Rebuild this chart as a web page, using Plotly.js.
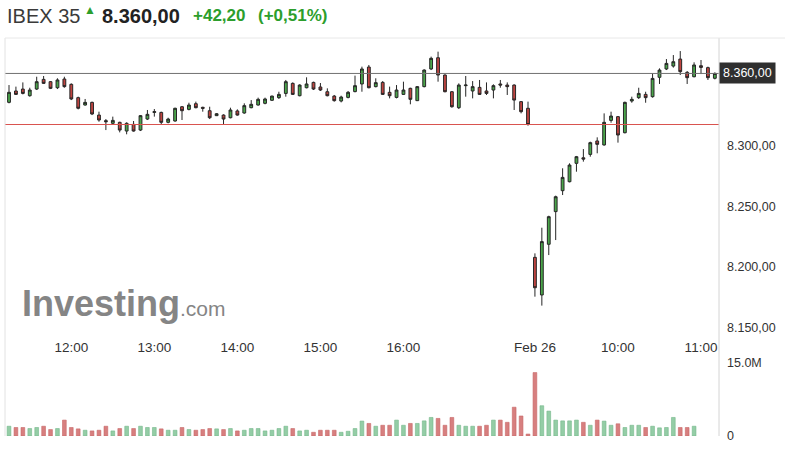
<!DOCTYPE html>
<html>
<head>
<meta charset="utf-8">
<script src="https://cdn.plot.ly/plotly-3.0.1.min.js"></script>
<style>html,body{margin:0;padding:0;background:#fff}#chart{width:785px;height:449px}</style>
</head>
<body>
<div id="chart"></div>
<script>
// 5-minute candles: Feb 25 11:15-17:30, Feb 26 09:00-11:10
const times = [
 "11:15","11:20","11:25","11:30","11:35","11:40","11:45","11:50","11:55",
 "12:00","12:05","12:10","12:15","12:20","12:25","12:30","12:35","12:40","12:45","12:50","12:55",
 "13:00","13:05","13:10","13:15","13:20","13:25","13:30","13:35","13:40","13:45","13:50","13:55",
 "14:00","14:05","14:10","14:15","14:20","14:25","14:30","14:35","14:40","14:45","14:50","14:55",
 "15:00","15:05","15:10","15:15","15:20","15:25","15:30","15:35","15:40","15:45","15:50","15:55",
 "16:00","16:05","16:10","16:15","16:20","16:25","16:30","16:35","16:40","16:45","16:50","16:55",
 "17:00","17:05","17:10","17:15","17:20","17:25","17:30",
 "09:00","09:05","09:10","09:15","09:20","09:25","09:30","09:35","09:40","09:45","09:50","09:55",
 "10:00","10:05","10:10","10:15","10:20","10:25","10:30","10:35","10:40","10:45","10:50","10:55",
 "11:00","11:05","11:10"
];
const openP = [
 8336.1,8345.5,8347.1,8341.6,8347.1,8355.1,8353.2,8348.2,8355.4,8351.0,
 8340.0,8333.9,8336.1,8325.6,8321.0,8318.8,8319.6,8312.4,8317.9,8313.2,
 8322.3,8327.8,8327.8,8319.6,8320.7,8332.5,8330.3,8335.0,8332.0,8329.2,
 8325.1,8325.6,8323.4,8329.0,8327.3,8331.7,8333.9,8335.3,8337.8,8340.0,
 8343.5,8351.8,8341.6,8348.2,8352.6,8348.8,8344.9,8341.3,8337.2,8340.2,
 8345.0,8351.3,8365.3,8349.1,8352.6,8344.4,8340.2,8342.7,8347.7,8337.5,
 8349.1,8363.7,8373.0,8358.7,8344.9,8331.7,8349.9,8345.5,8348.5,8345.5,
 8346.3,8351.3,8350.4,8350.4,8336.7,8331.2,
 8208.0,8176.9,8218.8,8245.8,8263.1,8270.5,8285.7,8290.3,8293.1,8304.2,
 8300.9,8321.2,8324.3,8311.0,8337.2,8340.0,8342.7,8340.8,8356.8,8363.7,
 8366.1,8371.9,8360.9,8357.3,8366.4,8364.8,8356.0
];
const highP = [
 8350.4,8349.1,8352.6,8348.2,8357.3,8357.9,8353.7,8356.0,8357.3,8351.8,
 8340.8,8338.9,8336.7,8328.4,8322.3,8324.3,8320.1,8319.6,8320.7,8325.6,
 8329.8,8330.6,8328.4,8323.4,8331.7,8333.1,8335.8,8336.7,8332.5,8332.5,
 8327.3,8326.2,8331.7,8330.3,8335.3,8338.0,8340.0,8340.0,8341.6,8344.9,
 8354.6,8352.6,8351.0,8356.8,8353.2,8352.1,8347.7,8342.2,8341.6,8345.5,
 8358.2,8365.6,8367.0,8356.0,8353.7,8349.1,8350.4,8353.2,8348.2,8349.6,
 8363.4,8373.9,8378.0,8359.3,8345.5,8351.8,8357.9,8353.7,8354.6,8352.6,
 8351.0,8354.6,8352.6,8351.0,8337.2,8336.7,
 8211.3,8232.5,8242.4,8259.0,8281.6,8285.7,8291.8,8297.5,8303.6,8307.2,
 8327.0,8328.4,8324.8,8336.7,8340.8,8348.2,8344.9,8360.1,8364.2,8371.9,
 8375.2,8378.5,8362.0,8369.2,8371.1,8365.6,8360.9
];
const lowP = [
 8335.3,8342.2,8342.7,8340.8,8346.3,8351.3,8347.1,8347.1,8348.2,8338.0,
 8330.3,8333.4,8325.6,8320.1,8313.2,8317.9,8311.3,8309.7,8311.9,8312.4,
 8321.5,8324.3,8317.9,8318.8,8320.1,8321.5,8329.5,8331.2,8328.4,8322.3,
 8324.8,8317.4,8322.9,8325.1,8326.7,8331.2,8333.4,8334.5,8337.2,8338.9,
 8340.8,8342.2,8341.1,8347.7,8346.3,8345.5,8341.1,8336.7,8336.1,8339.4,
 8344.4,8344.9,8347.7,8348.5,8342.2,8339.4,8339.4,8342.2,8334.5,8337.2,
 8348.5,8362.8,8353.2,8344.4,8331.7,8330.6,8340.8,8339.4,8342.2,8342.2,
 8339.4,8348.2,8342.2,8329.8,8327.0,8316.8,
 8175.5,8168.1,8209.9,8222.3,8259.5,8270.0,8278.8,8287.1,8291.2,8294.0,
 8300.3,8319.3,8302.8,8310.5,8335.8,8338.9,8335.8,8340.0,8351.3,8362.8,
 8364.8,8358.7,8351.3,8356.8,8359.5,8354.6,8355.1
];
const closeP = [
 8344.4,8342.7,8343.5,8346.3,8353.2,8351.8,8347.7,8354.6,8349.1,8338.9,
 8331.2,8336.1,8326.5,8321.5,8320.1,8321.2,8313.2,8318.8,8312.4,8325.1,
 8326.2,8328.4,8319.6,8322.3,8331.2,8329.2,8333.9,8331.7,8331.2,8323.4,
 8326.7,8322.3,8329.8,8325.6,8333.4,8334.5,8338.6,8338.9,8341.3,8342.7,
 8353.2,8342.7,8350.4,8351.3,8347.1,8346.3,8341.6,8337.5,8340.5,8344.4,
 8349.9,8363.7,8348.2,8352.4,8342.7,8341.6,8346.3,8346.3,8338.6,8349.1,
 8362.8,8372.5,8358.7,8344.9,8332.5,8350.4,8350.4,8349.1,8342.7,8343.5,
 8349.9,8350.4,8349.1,8338.0,8328.4,8317.8,
 8182.9,8221.0,8241.6,8258.1,8274.1,8284.3,8291.2,8289.2,8302.8,8301.4,
 8319.6,8324.8,8309.1,8336.1,8338.6,8343.5,8340.0,8355.9,8362.8,8368.3,
 8369.7,8361.5,8356.5,8367.0,8365.0,8356.5,8360.0
];
// volume in millions
const volumeM = [
 2.0,1.74,1.74,1.53,1.74,2.0,1.32,1.53,3.26,1.74,
 1.46,1.18,1.04,1.18,2.0,1.04,1.53,2.0,1.53,2.0,
 1.74,1.74,1.46,1.18,1.18,1.74,1.32,1.18,1.32,1.53,
 1.46,1.32,1.53,1.04,1.18,1.53,1.53,1.04,1.18,1.53,
 2.0,1.53,1.04,1.18,0.76,1.18,1.18,1.18,0.76,0.97,
 1.53,3.06,2.57,2.0,2.2,2.2,3.26,2.2,2.57,2.57,
 3.1,3.8,3.6,2.2,3.8,2.2,2.0,2.0,2.0,2.2,
 3.26,3.26,2.8,5.9,4.1,0.4,
 13.0,6.2,5.1,3.26,3.1,3.1,3.26,2.8,2.2,3.26,
 3.05,2.2,2.5,1.74,2.2,2.2,1.74,2.0,1.67,1.74,
 3.8,1.74,1.74,2.0,null,null,null
];
const xTickVals = ["12:00","13:00","14:00","15:00","16:00","09:00","10:00","11:00"];
const xTickText = ["12:00","13:00","14:00","15:00","16:00","Feb 26","10:00","11:00"];
const priceTicks = [8150, 8200, 8250, 8300];
const lastPrice = 8360.00;
const prevClose = 8317.80;
const change = "+42,20";
const changePct = "(+0,51%)";

const volFill = closeP.map((c, i) => c >= openP[i] ? "#94cda6" : "#d77f7f");
const volLine = closeP.map((c, i) => c >= openP[i] ? "#74b78a" : "#c86666");

const traces = [
 {
  type: "candlestick", x: times, open: openP, high: highP, low: lowP, close: closeP,
  xaxis: "x", yaxis: "y",
  increasing: {line: {color: "#262626", width: 1}, fillcolor: "#4aa54a"},
  decreasing: {line: {color: "#262626", width: 1}, fillcolor: "#bf4440"},
  whiskerwidth: 0, hoverinfo: "skip"
 },
 {
  type: "bar", x: times, y: volumeM, xaxis: "x2", yaxis: "y2",
  marker: {color: volFill, line: {color: volLine, width: 0.6}}, hoverinfo: "skip"
 }
];

const font = "Arial, 'Liberation Sans', sans-serif";
const layout = {
 width: 785, height: 449,
 margin: {l: 5, r: 66, t: 38, b: 13},
 paper_bgcolor: "#ffffff", plot_bgcolor: "#ffffff",
 showlegend: false, separators: ",.",
 font: {family: font, color: "#333"},
 boxgap: 0.42, bargap: 0.46,
 xaxis: {
  type: "category", range: [-0.58, 102.6], anchor: "y",
  tickvals: xTickVals, ticktext: xTickText, ticks: "",
  showgrid: false, zeroline: false, showline: false,
  tickfont: {size: 13.5, color: "#333"},
  rangeslider: {visible: false}
 },
 xaxis2: {
  type: "category", matches: "x", anchor: "y2",
  showticklabels: false, showgrid: false, zeroline: false, ticks: ""
 },
 yaxis: {
  domain: [0.2487, 1], range: [8142.15, 8389.3], side: "right", anchor: "x",
  tickvals: priceTicks, tickformat: ",.2f", ticks: "",
  showgrid: false, zeroline: false, ticklabelstandoff: 7,
  tickfont: {size: 12.5, color: "#333"}
 },
 yaxis2: {
  domain: [0, 0.2035], range: [0, 16.6], side: "right", anchor: "x2",
  tickvals: [0, 15], ticktext: ["0", "15.0M"], ticks: "",
  showgrid: false, zeroline: false, ticklabelstandoff: 7,
  tickfont: {size: 12.5, color: "#333"}
 },
 shapes: [
  {type: "line", xref: "paper", yref: "y", x0: 0, x1: 1, y0: lastPrice, y1: lastPrice, line: {color: "#707070", width: 1}},
  {type: "line", xref: "paper", yref: "y", x0: 0, x1: 1, y0: prevClose, y1: prevClose, line: {color: "#d9534f", width: 1}},
  {type: "line", xref: "paper", yref: "paper", x0: 0, x1: 0, y0: 0, y1: 1, line: {color: "#e2e2e2", width: 1}},
  {type: "line", xref: "paper", yref: "paper", x0: 1, x1: 1, y0: 0, y1: 1, line: {color: "#d4d4d4", width: 1}},
  {type: "line", xref: "paper", yref: "paper", x0: 0, x1: 1.1, y0: 1, y1: 1, line: {color: "#e8e8e8", width: 1}}
 ],
 annotations: [
  {xref: "paper", yref: "y", x: 1, y: lastPrice, xanchor: "left", yanchor: "middle", showarrow: false,
   text: "8.360,00", bgcolor: "#2f2f2f", borderpad: 3, font: {size: 12.5, color: "#ffffff"}},
  {xref: "paper", yref: "paper", x: 0.021, y: 0.334, xanchor: "left", yanchor: "middle", showarrow: false,
   text: "<b>Investing</b><span style='font-size:21px'>.com</span>", font: {size: 36, color: "#858585"}},
  {xref: "paper", yref: "paper", x: 0, y: 1.0553, xanchor: "left", yanchor: "middle", showarrow: false,
   text: "IBEX 35", font: {size: 20, color: "#3a3a3a"}},
  {xref: "paper", yref: "paper", x: 0.1197, y: 1.0700, xanchor: "center", yanchor: "middle", showarrow: false,
   text: "▲", font: {size: 12, color: "#2c9e2c"}},
  {xref: "paper", yref: "paper", x: 0.1331, y: 1.0553, xanchor: "left", yanchor: "middle", showarrow: false,
   text: "<b>8.360,00</b>", font: {size: 20, color: "#222"}},
  {xref: "paper", yref: "paper", x: 0.2605, y: 1.0553, xanchor: "left", yanchor: "middle", showarrow: false,
   text: "<b>" + change + "</b>", font: {size: 17, color: "#2c9e2c"}},
  {xref: "paper", yref: "paper", x: 0.3515, y: 1.0553, xanchor: "left", yanchor: "middle", showarrow: false,
   text: "<b>" + changePct + "</b>", font: {size: 17, color: "#2c9e2c"}}
 ]
};

Plotly.newPlot("chart", traces, layout, {staticPlot: true, displayModeBar: false});
</script>
</body>
</html>
